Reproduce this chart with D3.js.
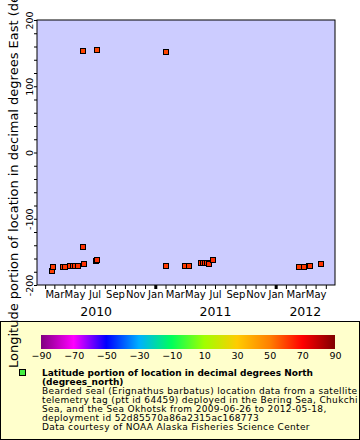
<!DOCTYPE html>
<html><head><meta charset="utf-8">
<script src="https://cdn.jsdelivr.net/npm/d3@7"></script>
<style>body{margin:0;background:#fff}svg{display:block;font-family:"DejaVu Sans",sans-serif}</style>
</head><body><svg id="c" width="360" height="440"></svg>
<script>
// ---- data ----
const dates = ["2010-02-21","2010-02-26","2010-03-27","2010-04-02","2010-04-18","2010-04-26","2010-05-04","2010-05-11",
  "2010-05-28","2010-05-28","2010-05-29","2010-07-04","2010-07-07","2010-07-07",
  "2011-02-04","2011-02-04","2011-04-02","2011-04-13","2011-05-21","2011-05-26","2011-06-01","2011-06-08","2011-06-13","2011-06-26",
  "2012-03-12","2012-03-27","2012-04-10","2012-04-15","2012-05-18"];
const lon = [-178.9,-172.4,-172.4,-172.4,-170.9,-170.9,-170.9,-170.9,
  153.2,-143.1,-167.8,-163.3,-161.8,155.2,
  151.7,-170.9,-170.9,-170.9,-167.2,-166.8,-166.3,-167.2,-168.3,-161.8,
  -172.4,-172.4,-171.3,-170.9,-167.8];
const lat = [60.5,60.8,61.0,61.2,61.5,61.6,61.8,62.0,
  59.5,62.5,62.3,62.8,63.0,59.2,
  59.0,61.0,61.2,61.4,62.0,62.2,62.4,62.5,62.6,63.0,
  61.0,61.2,61.5,61.7,62.0];
const yTickValues = [-200,-100,0,100,200];
const cbTickValues = [-90,-70,-50,-30,-10,10,30,50,70,90];
const cbColors = ["#800080","#ff00ff","#0000ff","#00b0ff","#00ff5a","#a0ff00","#ffcc00","#ff8000","#ff0000","#800000"];
const monthNames = ["Jan","Feb","Mar","Apr","May","Jun","Jul","Aug","Sep","Oct","Nov","Dec"];
const years = ["2010","2011","2012"];
const yTitle = "Longitude portion of location in decimal degrees East (degrees_east)";
const legendBold = ["Latitude portion of location in decimal degrees North","(degrees_north)"];
const legendLines = ["Bearded seal (Erignathus barbatus) location data from a satellite",
  "telemetry tag (ptt id 64459) deployed in the Bering Sea, Chukchi",
  "Sea, and the Sea Okhotsk from 2009-06-26 to 2012-05-18,",
  "deployment id 52d85570a86a2315ac168773",
  "Data courtesy of NOAA Alaska Fisheries Science Center"];

// ---- layout ----
const svg = d3.select("#c");
const L = 37, R = 335, T = 20, B = 285;
const parse = d3.utcParse("%Y-%m-%d");
const x = d3.scaleUtc().domain([Date.UTC(2010,0,7,10), Date.UTC(2012,5,28,20)]).range([L, R]);
const y = d3.scaleLinear().domain([-200, 200]).range([B, T]);
const color = d3.scaleLinear().domain(cbTickValues).range(cbColors).clamp(true);

// legend box (drawn first)
svg.append("rect").attr("x",0.5).attr("y",321.5).attr("width",359).attr("height",118)
  .attr("fill","#ffffcc").attr("stroke","#000");

// plot background
svg.append("rect").attr("x",L).attr("y",T).attr("width",R-L).attr("height",B-T).attr("fill","#ccccff");

// x axis
const months = d3.utcMonth.range(x.domain()[0], x.domain()[1]);
const xAxis = d3.axisBottom(x).tickValues(months).tickSize(4).tickPadding(2)
  .tickFormat(d => d.getUTCMonth() % 2 === 0 ? monthNames[d.getUTCMonth()] : "");
const gx = svg.append("g").attr("transform",`translate(0,${B})`).call(xAxis);
gx.select(".domain").remove();
gx.selectAll(".tick line").attr("stroke","#000")
  .attr("stroke-width", d => d.getUTCMonth() === 0 ? 3 : 1);
gx.selectAll(".tick text").attr("font-size",10).attr("font-family","DejaVu Sans").attr("fill","#000");

// year labels
const yearG = svg.append("g");
years.forEach(yr => {
  const s = Math.max(x(Date.UTC(+yr,0,1)), L), e = Math.min(x(Date.UTC(+yr+1,0,1)), R);
  yearG.append("text").attr("x",(s+e)/2).attr("y",B+31).attr("text-anchor","middle")
    .attr("font-size",12.5).text(yr);
});

// y axis
const yAxis = d3.axisLeft(y).tickValues(d3.range(-200,201,20)).tickSize(3)
  .tickFormat(d => yTickValues.includes(d) ? d : "");
const gy = svg.append("g").attr("transform",`translate(${L},0)`).call(yAxis);
gy.select(".domain").remove();
gy.selectAll(".tick line").attr("stroke","#000");
gy.selectAll(".tick text").attr("transform","rotate(-90)").attr("x",0).attr("y",-4).attr("dy",0)
  .attr("text-anchor","middle").attr("font-size",9.5).attr("font-family","DejaVu Sans").attr("fill","#000");

// plot border
svg.append("rect").attr("x",L).attr("y",T).attr("width",R-L).attr("height",B-T)
  .attr("fill","none").attr("stroke","#000").attr("stroke-width",1);

// points
const pts = dates.map((d,i) => ({t: parse(d), lon: lon[i], lat: lat[i]}));
svg.append("g").selectAll("rect").data(pts).join("rect")
  .attr("x", d => Math.round(x(d.t)) - 3 + 0.5).attr("y", d => Math.round(y(d.lon)) - 3 + 0.5)
  .attr("width",5).attr("height",5)
  .attr("fill", d => color(d.lat)).attr("stroke","#000").attr("stroke-width",1);

// color bar
const grad = svg.append("defs").append("linearGradient").attr("id","cb");
cbTickValues.forEach((v,i) => grad.append("stop")
  .attr("offset", (v+90)/180).attr("stop-color", cbColors[i]));
const cbx = d3.scaleLinear().domain([-90,90]).range([41,335]);
svg.append("rect").attr("x",41).attr("y",335).attr("width",294).attr("height",14).attr("fill","url(#cb)");
const gcb = svg.append("g").attr("transform","translate(0,349)")
  .call(d3.axisBottom(cbx).tickValues(cbTickValues).tickSize(0).tickPadding(3));
gcb.select(".domain").remove();
gcb.selectAll("text").attr("font-size",9.5).attr("font-family","DejaVu Sans").attr("fill","#000");

// legend marker & text
svg.append("rect").attr("x",19.5).attr("y",369.5).attr("width",6).attr("height",6)
  .attr("fill","#44ee44").attr("stroke","#000");
const lt = svg.append("g");
legendBold.forEach((s,i) => lt.append("text").attr("x",42).attr("y",376+9*i).attr("font-size",9).attr("font-weight","bold").text(s));
legendLines.forEach((s,i) => lt.append("text").attr("x",42).attr("y",394+9*i).attr("font-size",9)
  .attr("letter-spacing",0.35).text(s));

// y title
svg.append("text").attr("transform","translate(18,368) rotate(-90)")
  .attr("font-size",13).attr("text-anchor","start").text(yTitle);
</script></body></html>
